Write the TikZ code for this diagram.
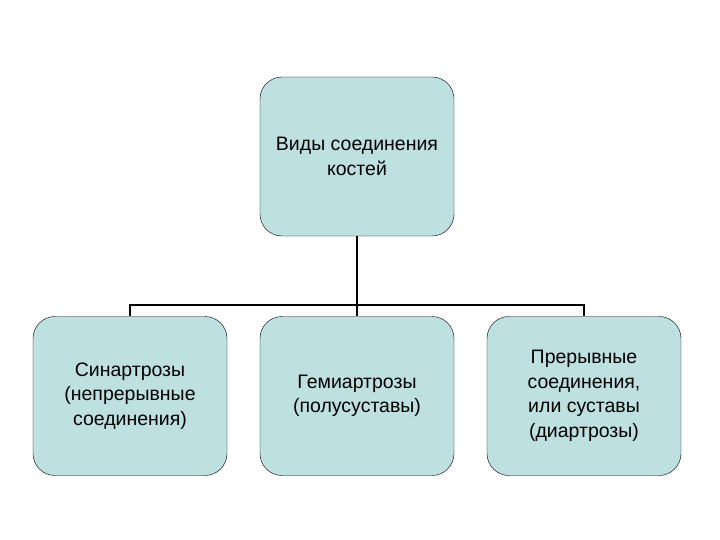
\documentclass[tikz,border=0pt]{standalone}
\usepackage{fontspec}
\setmainfont{Liberation Sans}
\begin{document}
\begin{tikzpicture}[x=1pt,y=-1pt,
  box/.style={draw=black,fill=boxfill,rounded corners=22pt,minimum width=194pt,minimum height=159pt,align=center,font=\fontsize{19.5}{24.5}\selectfont,inner sep=2pt},
  link/.style={draw=black,line width=1.4pt}]
\definecolor{boxfill}{HTML}{BEE0E0}
\useasboundingbox[fill=white] (0,0) rectangle (720,540);
\node[box] (top) at (357,156.5) {Виды соединения\\костей};
\node[box] (l) at (130,396) {Синартрозы\\(непрерывные\\соединения)};
\node[box] (m) at (357,396) {Гемиартрозы\\(полусуставы)};
\node[box] (r) at (584,396) {Прерывные\\соединения,\\или суставы\\(диартрозы)};
\coordinate (j) at (357,305);
\draw[black,line width=2.5pt] (top.south) -- (j);
\draw[link] (l.north) |- (j) -| (r.north);
\draw[link] (j) -- (m.north);
\end{tikzpicture}
\end{document}
